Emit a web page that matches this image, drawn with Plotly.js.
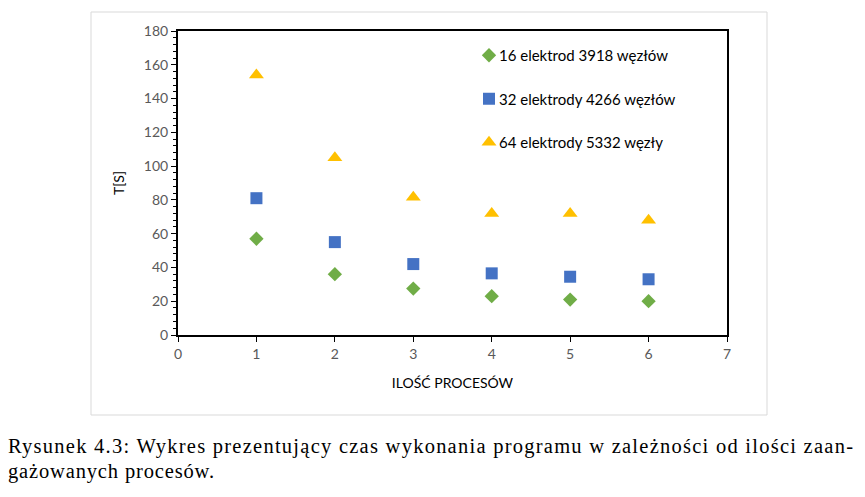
<!DOCTYPE html>
<html><head><meta charset="utf-8">
<script src="https://cdn.plot.ly/plotly-3.0.1.min.js"></script>
<style>html,body{margin:0;padding:0;background:#fff;}#c{width:865px;height:497px;}</style>
</head><body><div id="c"></div>
<script>
const processes = [1, 2, 3, 4, 5, 6];
const t16 = [57, 36, 27.5, 23, 21, 20];
const t32 = [81, 55, 42, 36.5, 34.5, 33];
const t64 = [154, 105, 81.5, 72, 72, 68];
const seriesNames = ['16 elektrod 3918 węzłów', '32 elektrody 4266 węzłów', '64 elektrody 5332 węzły'];
const xTitle = 'ILOŚĆ PROCESÓW';
const yTitle = 'T[S]';
const captionLines = ['Rysunek 4.3: Wykres prezentujący czas wykonania programu w zależności od ilości zaan-', 'gażowanych procesów.'];

const W = 865, H = 497;
const L = 178, R = 727, T = 31, B = 335;
const px = x => (x - L) / (R - L);
const py = y => (B - y) / (B - T);
const captionWidths = [845, 206];

const traces = [
  {x: processes, y: t16, name: seriesNames[0], legendgroup: 'a', mode: 'markers', type: 'scatter',
   marker: {symbol: 'diamond', size: 11, color: '#70AD47'}},
  {x: processes, y: t32, name: seriesNames[1], legendgroup: 'b', mode: 'markers', type: 'scatter',
   marker: {symbol: 'square', size: 12, color: '#4472C4'}},
  {x: processes, y: t64, name: seriesNames[2], legendgroup: 'c', mode: 'markers', type: 'scatter',
   marker: {symbol: 'triangle-up', size: 13, color: '#FFC000'}}
];

const layout = {
  width: W, height: H,
  margin: {l: L, r: W - R, t: T, b: H - B},
  paper_bgcolor: '#fff', plot_bgcolor: '#fff',
  font: {family: 'Lato, "Open Sans", sans-serif', color: '#595959', size: 13},
  showlegend: true,
  legend: {x: px(469), y: py(39), xanchor: 'left', yanchor: 'top', bgcolor: 'rgba(0,0,0,0)',
    font: {size: 15, color: '#000', family: 'Lato, "Open Sans", sans-serif'}, tracegroupgap: 21, itemwidth: 30},
  xaxis: {range: [0, 7], dtick: 1, showgrid: false, zeroline: false, showline: true, linecolor: '#000', linewidth: 2,
    mirror: true, ticks: 'outside', ticklen: 5, tickcolor: '#000', tickfont: {size: 14, color: '#595959'},
    title: {text: xTitle, font: {size: 14, color: '#000'}, standoff: 17}},
  yaxis: {range: [0, 180], dtick: 20, showgrid: false, zeroline: false, showline: true, linecolor: '#000', linewidth: 2,
    mirror: true, ticks: 'outside', ticklen: 5, tickcolor: '#000', tickfont: {size: 14, color: '#595959'},
    minor: {dtick: 4, ticks: 'outside', ticklen: 3, tickcolor: '#000', showgrid: false},
    title: {text: yTitle, font: {size: 14, color: '#000'}, standoff: 16}},
  shapes: [
    {type: 'rect', xref: 'paper', yref: 'paper', x0: px(91), x1: px(767), y0: py(415), y1: py(12),
     line: {color: '#D9D9D9', width: 1}, fillcolor: 'rgba(0,0,0,0)', layer: 'below'}
  ],
  annotations: captionLines.map((t, i) => ({
    text: t, xref: 'paper', yref: 'paper', x: px(6), y: py(446 + i * 25), xanchor: 'left', yanchor: 'middle',
    align: 'left', showarrow: false, font: {family: '"Liberation Serif", "Times New Roman", serif', size: 20.5, color: '#000'}
  }))
};

Plotly.newPlot('c', traces, layout, {displayModeBar: false, staticPlot: true}).then(gd => {
  gd.querySelectorAll('.legendtext').forEach(t => t.setAttribute('x', 30));
  const ann = gd.querySelectorAll('.annotation-text');
  ann.forEach((t, i) => {
    if (captionWidths[i]) {
      t.setAttribute('textLength', captionWidths[i]);
      t.setAttribute('lengthAdjust', 'spacing');
    }
  });
});
</script></body></html>
